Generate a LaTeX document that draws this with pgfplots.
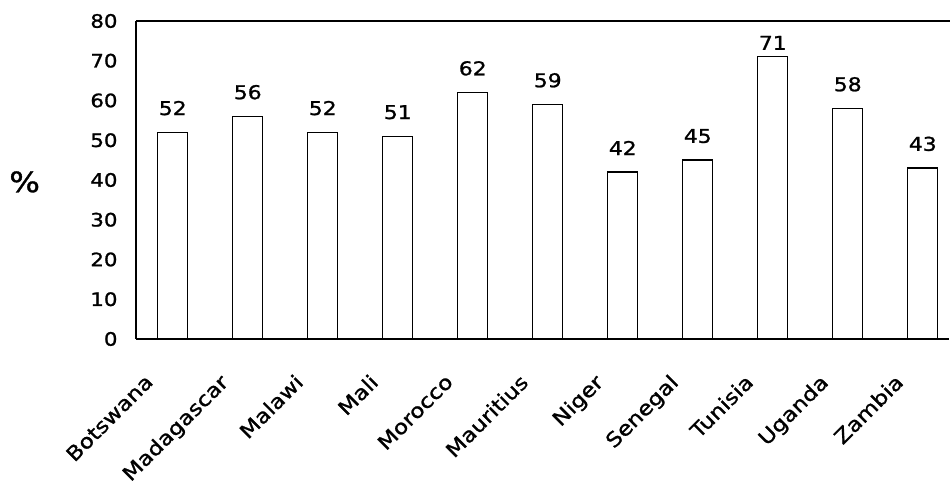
\documentclass[border=0pt]{standalone}
\usepackage{pgfplots}
\pgfplotsset{compat=1.18}
\usepackage{fontspec}
\setmainfont{DejaVu Sans}[FakeStretch=1.15, FakeBold=1.2]
\begin{document}
\begin{tikzpicture}
\begin{axis}[
  scale only axis,
  width=813pt, height=318pt,
  xmin=-0.49, xmax=10.35,
  ymin=0, ymax=80,
  axis lines*=left,
  axis line style={line width=1.3pt},
  ytick={0,10,...,80},
  xtick={0,...,10},
  xticklabels={Botswana,Madagascar,Malawi,Mali,Morocco,Mauritius,Niger,Senegal,Tunisia,Uganda,Zambia},
  major tick length=0pt,
  /pgf/number format/assume math mode=true,
  yticklabel style={font=\fontsize{18.5}{21}\selectfont, xshift=-15pt},
  xticklabel style={font=\fontsize{20}{23}\selectfont, rotate=45, anchor=north east, xshift=-41pt, yshift=0pt},
  clip=false,
]
\addplot[ybar, bar shift=0pt, bar width=30pt, fill=white, draw=black, line width=1.3pt,
  nodes near coords,
  nodes near coords style={font=\fontsize{19}{22}\selectfont, yshift=13pt},
  point meta=explicit symbolic]
  coordinates {(0,52)[52] (1,56)[56] (2,52)[52] (3,51)[51] (4,62)[62] (5,59)[59] (6,42)[42] (7,45)[45] (9,58)[58] (10,43)[43]};
\addplot[ybar, bar shift=0pt, bar width=30pt, fill=white, draw=black, line width=1.3pt,
  nodes near coords,
  nodes near coords style={font=\fontsize{19}{22}\selectfont, yshift=3pt},
  point meta=explicit symbolic]
  coordinates {(8,71)[71]};
\draw[line width=1.3pt] (rel axis cs:0,1) -- (rel axis cs:1.0012,1);
\node[font=\fontsize{28}{32}\selectfont] at (rel axis cs:-0.137,0.494) {\%};
\coordinate (bl) at (rel axis cs:-0.1673,-0.459);
\coordinate (tr) at (rel axis cs:1.0012,1.066);
\end{axis}
\pgfresetboundingbox
\path[use as bounding box] (bl) rectangle (tr);
\end{tikzpicture}
\end{document}
